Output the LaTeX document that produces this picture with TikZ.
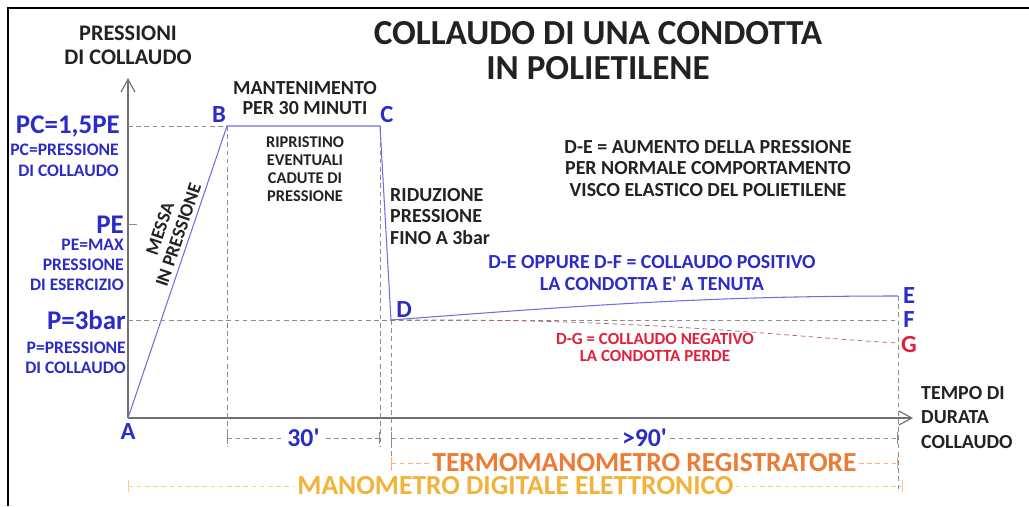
\documentclass[tikz,border=0pt]{standalone}
\usepackage{fontspec}
\setmainfont{Carlito}
\usepackage{tikz}
\usetikzlibrary{arrows.meta}

\definecolor{labblue}{HTML}{2B2BC8}
\definecolor{lineblue}{HTML}{6E6EE0}
\definecolor{labred}{HTML}{E0203C}
\definecolor{termo}{HTML}{EC7B33}
\definecolor{mano}{HTML}{F2B33D}
\definecolor{guidegray}{HTML}{8C8C8C}
\definecolor{ink}{HTML}{222222}

\newcommand{\lblfont}[2]{\fontsize{#1}{#2}\selectfont\bfseries}

\tikzset{
  guide/.style={guidegray, dash pattern=on 4pt off 3pt, line width=0.6pt},
  dimline/.style={guide, {Bar[width=10pt]}-{Bar[width=10pt]}},
  trace/.style={lineblue, line width=0.9pt},
  axis/.style={guidegray!80!black, line width=1pt, -{Straight Barb[length=11pt,width=12pt]}},
  point/.style={text=labblue, font=\lblfont{21}{21}, inner sep=0pt},
  note/.style={text=ink, inner sep=0pt, align=center},
}

\begin{document}
\begin{tikzpicture}[x=0.3mm, y=-0.3mm]
  \useasboundingbox (0,0) rectangle (1029,506);
  % frame
  \draw[line width=2.5pt] (8,506) -- (8,8) -- (1029,8);

  % points of the test curve
  \coordinate (A) at (128,418);
  \coordinate (B) at (227,126);
  \coordinate (C) at (380,126);
  \coordinate (D) at (391,320);
  \coordinate (E) at (898,296);
  \coordinate (F) at (898,320);
  \coordinate (G) at (898,343);
  \coordinate (ytip) at (128,78);
  \coordinate (xtip) at (913,418);

  % axes
  \draw[axis] (A) -- (ytip);
  \draw[axis] (A) -- (xtip);
  \draw[guidegray, line width=0.8pt] (128,224) -- (137,224);

  % guides
  \draw[guide] (A |- B) -- (B);
  \draw[guide] (A |- D) -- (F);
  \draw[guide] (B) -- ++(0,320);
  \draw[guide] (C) -- ++(0,320);
  \draw[guide] (D) -- ++(0,150);
  \draw[guide] (E) -- ++(0,196);

  % test curve
  \draw[trace] (A) -- (B) -- (C) -- (D);
  \draw[trace] (D) .. controls (600,304) and (720,296) .. (E);
  \draw[guide, labred!45!guidegray] (D) .. controls (650,318) and (800,338) .. (G);

  % point labels
  \node[point] (lA) at (128,432) {A};
  \node[point] (lB) at (219,115) {B};
  \node[point] (lC) at (387,115) {C};
  \node[point] (lD) at (404,310) {D};
  \node[point] (lE) at (909,296) {E};
  \node[point] (lF) at (909,320) {F};
  \node[point, text=labred] (lG) at (909,345) {G};

  % pressure axis labels
  \node[note, font=\lblfont{19}{20.5}] (yname) at (128,45) {PRESSIONI\\DI COLLAUDO};
  \node[anchor=east, inner sep=0pt, text=labblue, font=\lblfont{23}{23}] (pc) at (120,126) {PC=1,5PE};
  \node[anchor=east, inner sep=0pt, align=right, text=labblue, font=\lblfont{15}{18}] (pcnote) at (119,160.5) {PC=PRESSIONE\\DI COLLAUDO};
  \node[anchor=east, inner sep=0pt, text=labblue, font=\lblfont{23}{23}] (pe) at (124,225) {PE};
  \node[anchor=east, inner sep=0pt, align=right, text=labblue, font=\lblfont{15}{17}] (penote) at (124,265) {PE=MAX\\PRESSIONE\\DI ESERCIZIO};
  \node[anchor=east, inner sep=0pt, text=labblue, font=\lblfont{23}{23}] (p) at (126,320) {P=3bar};
  \node[anchor=east, inner sep=0pt, align=right, text=labblue, font=\lblfont{15}{17}] (pnote) at (126,358) {P=PRESSIONE\\DI COLLAUDO};

  % title
  \node[note, font=\lblfont{30}{30}] (title) at (598,50.5) {COLLAUDO DI UNA CONDOTTA\\IN POLIETILENE};

  % phase notes
  \path (A) -- (B) node[pos=0.615, sloped, above=4pt, note, font=\lblfont{16}{16.5}] (messa) {MESSA\\IN PRESSIONE};
  \node[note, font=\lblfont{17}{17}] (mant) at (305,98) {MANTENIMENTO\\PER 30 MINUTI};
  \node[note, font=\lblfont{14}{15.4}] (ripr) at (305,169) {RIPRISTINO\\EVENTUALI\\CADUTE DI\\PRESSIONE};
  \node[note, anchor=west, align=left, font=\lblfont{17}{18.3}] (riduz) at (390,216.5) {RIDUZIONE\\PRESSIONE\\FINO A 3bar};
  \node[note, font=\lblfont{17}{18.3}] (aumento) at (708,168.5) {D-E = AUMENTO DELLA PRESSIONE\\PER NORMALE COMPORTAMENTO\\VISCO ELASTICO DEL POLIETILENE};
  \node[note, text=labblue, font=\lblfont{17}{18.8}] (positivo) at (652,273) {D-E OPPURE D-F = COLLAUDO POSITIVO\\LA CONDOTTA E\textquotesingle{} A TENUTA};
  \node[note, text=labred, font=\lblfont{14.5}{14.5}] (negativo) at (655,347.5) {D-G = COLLAUDO NEGATIVO\\LA CONDOTTA PERDE};
  \node[note, anchor=west, align=left, font=\lblfont{17}{21}] (xname) at (921,417.5) {TEMPO DI\\DURATA\\COLLAUDO};

  % durations and instruments
  \draw[dimline] (227,438) -- node[fill=white, inner sep=2pt, text=labblue, font=\lblfont{22}{22}] (t30) {30\textquotesingle} (380,438);
  \draw[dimline] (391,438) -- node[fill=white, inner sep=2pt, text=labblue, font=\lblfont{22}{22}] (t90) {>90\textquotesingle} (898,438);
  \draw[dimline, termo!60] (391,463) -- node[fill=white, inner sep=2pt, text=termo, font=\lblfont{23.5}{23.5}] (termo) {TERMOMANOMETRO REGISTRATORE} (898,463);
  \draw[dimline, mano!60] (128,486) -- node[fill=white, inner sep=2pt, text=mano, font=\lblfont{23.5}{23.5}] (mano) {MANOMETRO DIGITALE ELETTRONICO} (903,486);
\end{tikzpicture}
\end{document}
